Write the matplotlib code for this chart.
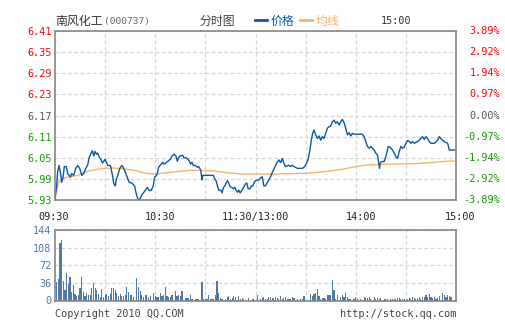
import matplotlib.pyplot as plt
from matplotlib.lines import Line2D
from matplotlib.transforms import blended_transform_factory, ScaledTranslation

# 価格データ (分, 価格)
price_min = [0, 1, 1.6, 2.4, 3.2, 4, 4.8, 5.6, 6.8, 7.6, 8.4, 9.2, 10, 11.2, 12.4, 13.6, 14.8, 16, 17.2, 18.4,
             19.6, 20.4, 21.6, 22.4, 23.2, 24, 24.8, 25.6, 26.4, 27.6, 28.4, 29.2, 30, 30.8, 31.6, 33.2, 34.4, 35.2,
             36, 36.8, 37.6, 38.8, 40, 40.8, 42, 43.2, 44.4, 46, 47.6, 48.4, 49.2, 50, 50.8, 52, 53.2, 54.4, 55.2,
             56.4, 57.6, 58, 58.8, 59.6, 60.4, 61.2, 62, 63.2, 64.4, 65.2, 66, 66.8, 68, 69.2, 70, 71.2, 72.4, 73.2,
             74, 74.8, 76.4, 77.2, 78.4, 79.6, 80.4, 81.2, 82, 82.8, 84, 85.2, 86, 87.2, 87.6, 88, 88.4, 90, 92,
             94.8, 95.6, 96.4, 97.2, 98, 99.2, 100, 100.8, 101.6, 102.4, 103.2, 104, 104.8, 106, 106.8, 107.6,
             108.4, 109.2, 110, 110.8, 111.6, 112.4, 113.2, 114, 114.8, 115.6, 116.8, 117.6, 118.4, 119.2, 120,
             122, 123, 124, 125, 126, 127, 128, 129, 130, 131, 132.6, 134, 135, 136, 137, 138, 139, 140, 141, 142,
             143, 145, 148, 149, 150, 151.4, 152.6, 153.4, 154.2, 155, 156, 157, 158, 159, 160, 161, 162, 163, 164,
             165, 166, 167, 168, 169, 170, 171, 172, 173, 174, 175, 176, 177, 178, 179, 181, 184, 185, 186, 187,
             188, 189, 190, 191, 192, 193, 194, 194.2, 194.6, 195.4, 197, 198, 199, 199.4, 200.6, 202, 203, 204,
             205, 206, 207, 208, 209, 210, 211, 212, 213, 214, 215, 217, 218, 219, 220, 221, 222, 223, 224, 225,
             227, 229, 230, 231, 232, 233, 235, 236, 240]
price = [5.935, 5.97, 6.01, 6.028, 6.01, 5.98, 5.995, 6.025, 6.025, 6.005, 6.0, 5.995, 6.005, 6.0, 6.02, 6.028,
         6.02, 6.0, 6.005, 6.02, 6.03, 6.05, 6.063, 6.07, 6.055, 6.068, 6.06, 6.063, 6.053, 6.044, 6.035, 6.04,
         6.046, 6.037, 6.028, 6.028, 6.0, 5.976, 5.97, 5.99, 6.0, 6.02, 6.028, 6.023, 6.01, 5.995, 5.98, 5.978,
         5.97, 5.952, 5.938, 5.93, 5.933, 5.945, 5.952, 5.96, 5.966, 5.957, 5.957, 5.962, 5.97, 5.995, 5.998,
         6.005, 6.023, 6.03, 6.037, 6.032, 6.034, 6.037, 6.042, 6.046, 6.055, 6.06, 6.055, 6.04, 6.05, 6.055,
         6.057, 6.05, 6.05, 6.046, 6.04, 6.032, 6.037, 6.028, 6.028, 6.023, 6.025, 6.015, 6.0, 5.987, 6.0, 6.0,
         6.0, 6.0, 5.99, 5.985, 5.97, 5.958, 5.958, 5.95, 5.965, 5.97, 5.978, 5.985, 5.978, 5.968, 5.965, 5.962,
         5.966, 5.958, 5.952, 5.958, 5.95, 5.955, 5.962, 5.968, 5.976, 5.978, 5.962, 5.962, 5.97, 5.97, 5.98,
         5.985, 5.987, 5.992, 5.996, 5.970, 5.970, 5.979, 5.987, 5.996, 6.008, 6.017, 6.034, 6.044, 6.036, 6.048,
         6.034, 6.025, 6.027, 6.029, 6.025, 6.029, 6.025, 6.020, 6.020, 6.023, 6.029, 6.044, 6.072, 6.100, 6.119,
         6.129, 6.115, 6.105, 6.112, 6.100, 6.110, 6.105, 6.119, 6.134, 6.138, 6.140, 6.152, 6.157, 6.148, 6.152,
         6.143, 6.152, 6.159, 6.150, 6.134, 6.115, 6.121, 6.112, 6.119, 6.117, 6.117, 6.117, 6.110, 6.096, 6.082,
         6.077, 6.082, 6.077, 6.072, 6.063, 6.058, 6.029, 6.020, 6.034, 6.039, 6.039, 6.053, 6.072, 6.082, 6.080,
         6.072, 6.064, 6.053, 6.048, 6.067, 6.082, 6.077, 6.080, 6.091, 6.099, 6.096, 6.091, 6.096, 6.091, 6.096,
         6.100, 6.105, 6.110, 6.102, 6.110, 6.105, 6.096, 6.091, 6.091, 6.100, 6.110, 6.105, 6.099, 6.096, 6.091,
         6.072, 6.072]

# 均線
avg_min = [0, 1, 2, 4, 8, 14, 18, 22, 26, 34, 42, 48, 54, 60, 66, 74, 80, 88, 96, 104, 112, 120, 130, 140, 150,
           156, 164, 172, 180, 186, 202, 214, 224, 234, 240]
avg_price = [5.933, 5.957, 5.98, 5.99, 5.995, 6.0, 6.01, 6.014, 6.018, 6.021, 6.018, 6.014, 6.006, 6.004, 6.007,
             6.011, 6.014, 6.014, 6.012, 6.007, 6.004, 6.004, 6.003, 6.005, 6.006, 6.008, 6.012, 6.017, 6.025,
             6.029, 6.032, 6.033, 6.036, 6.04, 6.041]

# 成交量
vol_min = [1, 2, 3, 4, 5, 6, 7, 8, 9, 10, 11, 12, 13, 14, 15, 16, 17, 18, 19, 20, 21, 22, 23, 24, 25, 26, 27, 28,
           29, 30, 31, 32, 33, 34, 35, 36, 37, 38, 39, 40, 41, 42, 43, 44, 45, 46, 47, 49, 50, 51, 52, 53, 54, 55,
           56, 57, 59, 60, 61, 62, 63, 64, 65, 66, 67, 68, 69, 70, 72, 73, 74, 75, 76, 78, 79, 80, 81, 82, 84, 85,
           86, 88, 89, 90, 91, 92, 93, 94, 95, 96, 97, 98, 99, 100, 102, 103, 104, 105, 106, 107, 108, 110, 111,
           112, 113, 116, 118, 119, 121, 123, 124, 125, 126, 127, 128, 129, 130, 131, 132, 133, 134, 135, 136,
           137, 138, 139, 140, 141, 142, 143, 145, 147, 148, 149, 153, 154, 155, 156, 157, 158, 159, 160, 161,
           162, 163, 164, 165, 166, 167, 168, 169, 171, 172, 173, 174, 175, 176, 177, 179, 180, 181, 183, 185,
           186, 187, 188, 189, 191, 192, 193, 194, 195, 197, 198, 199, 201, 202, 203, 204, 205, 206, 207, 208,
           209, 211, 212, 213, 214, 215, 216, 217, 218, 219, 220, 221, 222, 223, 224, 225, 226, 227, 228, 229,
           230, 232, 233, 234, 235, 236, 237]
vol = [37, 44, 117, 124, 40, 21, 56, 33, 48, 18, 32, 14, 10, 11, 26, 48, 18, 10, 16, 12, 11, 26, 36, 26, 21, 14, 8,
       23, 8, 11, 14, 10, 14, 26, 26, 21, 16, 10, 14, 10, 10, 12, 27, 18, 11, 12, 8, 47, 27, 19, 11, 7, 11, 11, 7,
       10, 15, 10, 8, 7, 15, 10, 12, 28, 10, 8, 8, 11, 19, 10, 12, 10, 19, 5, 5, 5, 12, 3, 3, 3, 3, 37, 3, 4, 4,
       12, 4, 4, 4, 12, 41, 15, 5, 4, 3, 7, 10, 4, 5, 10, 7, 10, 4, 5, 4, 5, 3, 3, 11, 3, 5, 7, 3, 4, 7, 7, 5, 5,
       7, 5, 4, 10, 3, 5, 7, 3, 3, 3, 7, 5, 3, 3, 3, 10, 14, 10, 14, 15, 23, 10, 3, 5, 5, 3, 11, 11, 11, 42, 21,
       3, 12, 7, 11, 7, 15, 8, 3, 3, 3, 8, 3, 3, 7, 5, 5, 8, 3, 7, 3, 5, 4, 5, 4, 3, 3, 4, 3, 4, 3, 5, 5, 3, 4, 4,
       3, 5, 4, 7, 5, 3, 5, 7, 4, 7, 8, 11, 7, 14, 8, 5, 8, 4, 5, 10, 15, 12, 8, 12, 10, 8]

price_ticks = [6.41, 6.35, 6.29, 6.23, 6.17, 6.11, 6.05, 5.99, 5.93]
pct_labels = ['3.89%', '2.92%', '1.94%', '0.97%', '0.00%', '-0.97%', '-1.94%', '-2.92%', '-3.89%']
prev_close = 6.17
time_ticks = [0, 60, 120, 180, 240]
time_labels = ['09:30', '10:30', '11:30/13:00', '14:00', '15:00']
vol_ticks = [0, 36, 72, 108, 144]

W, H = 505, 330
BLUE = '#0a59a8'
ORANGE = '#f7b26e'
RED = '#ff0000'
GREEN = '#149a00'
GRAY = '#555555'
VOLC = '#4f7aa3'
GRID = '#d6d6d6'
MONO = 'DejaVu Sans Mono'
CJK = ['Noto Sans CJK SC', 'DejaVu Sans']

fig = plt.figure(figsize=(W / 100, H / 100), dpi=100)
ax = fig.add_axes([55 / W, 1 - 200 / H, 401 / W, 169 / H])
axv = fig.add_axes([55 / W, 1 - 300.5 / H, 401 / W, 70.2 / H])

for a in (ax, axv):
    for s in a.spines.values():
        s.set_color('#858585')
        s.set_linewidth(1.2)
    a.set_xlim(0, 240)
    a.set_xticks(range(30, 240, 30))
    a.grid(True, color=GRID, linestyle=(0, (3, 2)), linewidth=0.9)
    a.tick_params(length=0, labelbottom=False)
    a.set_axisbelow(True)

# 価格チャート
ax.plot(avg_min, avg_price, color=ORANGE, linewidth=1.0)
ax.plot(price_min, price, color=BLUE, linewidth=1.0)
ax.set_ylim(5.93, 6.41)
ax.set_yticks(price_ticks)
ax.set_yticklabels([f'{p:.2f}' for p in price_ticks], fontfamily=MONO, fontsize=7.3)
ax.tick_params(axis='y', pad=2.5)
for lab, p in zip(ax.get_yticklabels(), price_ticks):
    lab.set_color(RED if p > prev_close + 1e-9 else (GREEN if p < prev_close - 1e-9 else GRAY))

tr = blended_transform_factory(fig.transFigure, ax.transData)
for p, t in zip(price_ticks, pct_labels):
    c = RED if p > prev_close + 1e-9 else (GREEN if p < prev_close - 1e-9 else GRAY)
    ax.text(500 / W, p, t, transform=tr, ha='right', va='center', color=c, fontfamily=MONO, fontsize=7.3)

# 時間ラベル
shifts = [-1, 5, 0, 5, 4]
for m, t, dx in zip(time_ticks, time_labels, shifts):
    off = ScaledTranslation(dx / 100, 0, fig.dpi_scale_trans)
    ax.text(m, -0.1, t, transform=blended_transform_factory(ax.transData, ax.transAxes) + off,
            ha='center', va='center', color='#222222', fontfamily=MONO, fontsize=7.3)

# 成交量
axv.bar(vol_min, vol, width=0.7, color=VOLC, linewidth=0)
axv.set_ylim(0, 144)
axv.set_yticks(vol_ticks)
axv.set_yticklabels([str(v) for v in vol_ticks], fontfamily=MONO, fontsize=7.3, color=VOLC)
axv.tick_params(axis='y', pad=2.5)

# タイトル・凡例
ty = 1 - 21.5 / H
fig.text(55 / W, ty, '南风化工', family=CJK, fontsize=8.6, color='#333333', va='center')
fig.text(104 / W, ty, '(000737)', family=MONO, fontsize=6.8, color='#666666', va='center')
fig.text(200 / W, ty, '分时图', family=CJK, fontsize=8.6, color='#444444', va='center')
fig.add_artist(Line2D([255 / W, 267 / W], [1 - 20 / H] * 2, color=BLUE, linewidth=2, transform=fig.transFigure))
fig.text(271 / W, ty, '价格', family=CJK, fontsize=8.6, color=BLUE, va='center')
fig.add_artist(Line2D([300 / W, 312 / W], [1 - 20 / H] * 2, color=ORANGE, linewidth=2, transform=fig.transFigure))
fig.text(316 / W, ty, '均线', family=CJK, fontsize=8.6, color=ORANGE, va='center')
fig.text(396 / W, ty, '15:00', family=MONO, fontsize=7.3, color='#333333', va='center', ha='center')

fig.text(55 / W, 1 - 314 / H, 'Copyright 2010 QQ.COM', family=MONO, fontsize=7.3, color='#444444', va='center')
fig.text(456 / W, 1 - 314 / H, 'http://stock.qq.com', family=MONO, fontsize=7.3, color='#444444',
         va='center', ha='right')

fig.savefig('out.png', dpi=100, facecolor='white')
